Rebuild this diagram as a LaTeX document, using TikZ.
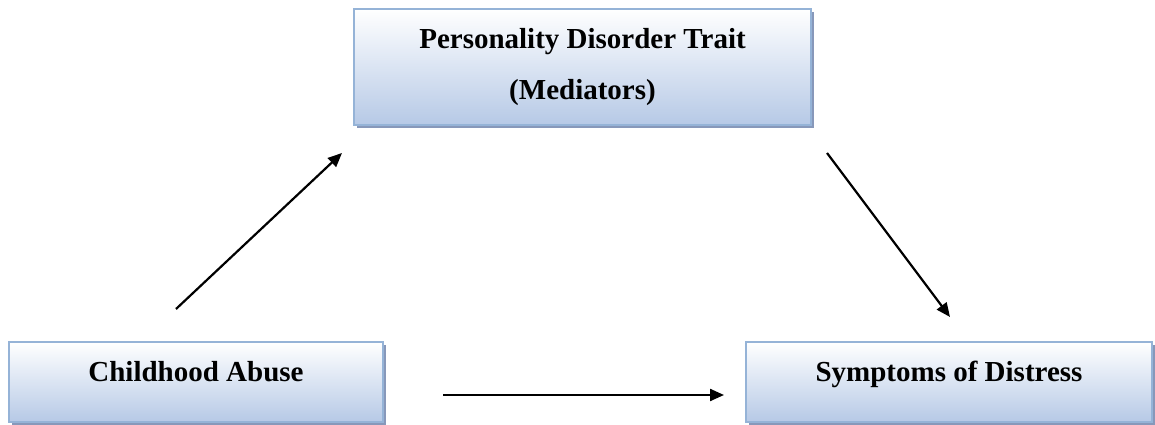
\documentclass[tikz,border=0pt]{standalone}
\usepackage{fontspec}
\setmainfont{Liberation Serif}
\usepackage{tikz}
\usetikzlibrary{positioning,shapes,arrows.meta,shadows}

\definecolor{boxborder}{RGB}{149,179,215}
\definecolor{boxmid}{RGB}{230,236,247}
\definecolor{boxbottom}{RGB}{182,201,230}
\definecolor{shadowblue}{RGB}{135,152,186}

\begin{document}
\begin{tikzpicture}[x=1pt,y=1pt,
    factor/.style={rectangle, draw=boxborder, line width=2pt,
        top color=white, middle color=boxmid, bottom color=boxbottom,
        drop shadow={shadow xshift=3pt, shadow yshift=-3pt, fill=shadowblue, opacity=1},
        font=\fontsize{29}{35}\selectfont\bfseries, inner sep=0pt},
    link/.style={line width=2.2pt, -{Triangle[length=14pt,width=12pt]}}]
    \useasboundingbox (0,0) rectangle (1155,425);

    % Draw the three boxes
    \node[factor, minimum width=457pt, minimum height=116pt, align=center,
        font=\fontsize{29}{51}\selectfont\bfseries] (trait) at (582.5,358)
        {Personality Disorder Trait\\(Mediators)};
    \node[factor, minimum width=374pt, minimum height=80pt,
        text height=20pt, text depth=21pt] (abuse) at (196,43) {Childhood Abuse};
    \node[factor, minimum width=406pt, minimum height=80pt,
        text height=20pt, text depth=21pt] (distress) at (949,43) {Symptoms of Distress};

    % Arrow end points
    \coordinate (a1s) at ([shift={(-20pt,32pt)}]abuse.north);
    \coordinate (a1e) at ([shift={(-11pt,-27pt)}]trait.south west);
    \coordinate (a2s) at ([shift={(15pt,-27pt)}]trait.south east);
    \coordinate (a2e) at ([shift={(1pt,24pt)}]distress.north);
    \coordinate (a3s) at ([shift={(59pt,28pt)}]abuse.south east);
    \coordinate (a3e) at ([shift={(-21pt,28pt)}]distress.south west);

    % Draw the arrows
    \draw[link] (a1s) -- (a1e);
    \draw[link] (a2s) -- (a2e);
    \draw[link] (a3s) -- (a3e);
\end{tikzpicture}
\end{document}
